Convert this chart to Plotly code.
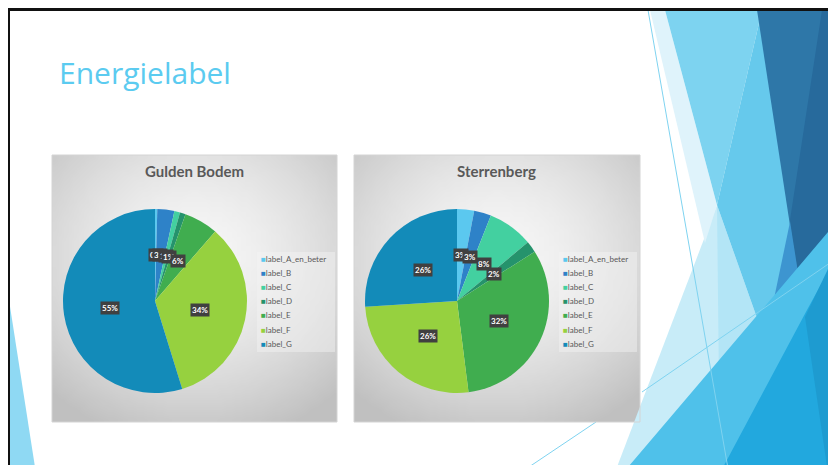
import base64
import struct
import zlib

import numpy as np
import plotly.graph_objects as go

# the page body has an 8px margin, so the figure starts at (8, 8) of the window
OFF = 8
W, H = 836 - OFF, 473 - 2 * OFF

labels = ["label_A_en_beter", "label_B", "label_C", "label_D", "label_E", "label_F", "label_G"]
colors = ["#5bc8ef", "#2e82c8", "#43d0a0", "#25936c", "#40ad4f", "#96d13f", "#138bb9"]
gulden_bodem = [0.4, 3, 1, 1, 6, 34, 55]
sterrenberg = [3, 3, 8, 2, 32, 26, 26]


def px(x):
    return (x - OFF) / W


def py(y):
    return 1 - (y - OFF) / H


def gradient_png(w=58, h=54):
    yy, xx = np.mgrid[0:h, 0:w]
    xx = xx / (w - 1)
    yy = yy / (h - 1)
    d = np.sqrt(((xx - 0.5) / 0.75) ** 2 + ((yy - 0.38) / 0.72) ** 2)
    val = 247 - 55 * np.clip(d, 0, 1) ** 1.6
    arr = val.astype(np.uint8)
    raw = b"".join(b"\x00" + row.tobytes() for row in arr)

    def chunk(tag, data):
        c = struct.pack(">I", len(data)) + tag + data
        return c + struct.pack(">I", zlib.crc32(tag + data) & 0xFFFFFFFF)

    png = b"\x89PNG\r\n\x1a\n"
    png += chunk(b"IHDR", struct.pack(">IIBBBBB", w, h, 8, 0, 0, 0, 0))
    png += chunk(b"IDAT", zlib.compress(raw, 9))
    png += chunk(b"IEND", b"")
    return "data:image/png;base64," + base64.b64encode(png).decode()


def poly(points, color):
    path = "M " + " L ".join(f"{px(x)},{py(y)}" for x, y in points) + " Z"
    return dict(type="path", path=path, xref="paper", yref="paper",
                fillcolor=color, line=dict(width=0), layer="below")


def seg(x0, y0, x1, y1, color, width=1):
    return dict(type="line", xref="paper", yref="paper",
                x0=px(x0), y0=py(y0), x1=px(x1), y1=py(y1),
                line=dict(color=color, width=width), layer="below")


# chart panels: box (left, top, right, bottom), pie centre and radius in window pixels
charts = [
    dict(title="Gulden Bodem", values=gulden_bodem, box=(52, 155, 337, 422), c=(155, 301), r=92),
    dict(title="Sterrenberg", values=sterrenberg, box=(354, 155, 640, 422), c=(457, 301), r=92),
]

fig = go.Figure()
shapes = []
annotations = []
images = []
bg = gradient_png()

# slide decoration (theme shapes)
shapes += [
    poly([(9, 300), (9, 480), (37, 480)], "#8fd9f3"),
    poly([(717, 205), (612, 480), (775, 480)], "#c8ecf8"),
    poly([(717, 205), (757, 318), (765, 480), (720, 480)], "#b3e5f6"),
    poly([(650, 10), (665, 10), (717, 205), (705, 243)], "#dff3fb"),
    poly([(665, 10), (762, 10), (717, 205)], "#7dd3f0"),
    poly([(762, 10), (795, 10), (805, 330), (757, 318), (717, 205)], "#66c9ec"),
    poly([(757, 10), (840, 10), (840, 480), (829, 480)], "#2e77a8"),
    poly([(822, 10), (840, 10), (840, 480), (829, 480), (805, 317), (790, 220)], "#276a9c"),
    poly([(790, 222), (805, 317), (772, 400), (770, 318)], "#3d95d0"),
    poly([(623, 473), (840, 218), (840, 480), (617, 480)], "#4fc1ea"),
    poly([(720, 473), (807, 310), (840, 250), (840, 480), (716, 480)], "#22a8de"),
    poly([(805, 317), (840, 244), (840, 480), (829, 480)], "#1e9bd0"),
    seg(648, 10, 730, 480, "#7fd3f0"),
    seg(520, 473, 596, 422, "#7fd3f0"),
    seg(642, 392, 840, 256, "#7fd3f0"),
    # slide border
    seg(8, 9.5, 840, 9.5, "#111111", 3),
    seg(8.5, 9.5, 8.5, 480, "#111111", 3),
]

for ch in charts:
    x0, y0, x1, y1 = ch["box"]
    cx, cy = ch["c"]
    r = ch["r"]
    vals = ch["values"]
    total = sum(vals)

    images.append(dict(source=bg, xref="paper", yref="paper", x=px(x0), y=py(y0),
                       sizex=(x1 - x0) / W, sizey=(y1 - y0) / H, xanchor="left",
                       yanchor="top", sizing="stretch", layer="below"))
    shapes.append(dict(type="rect", xref="paper", yref="paper", x0=px(x0), y0=py(y1),
                       x1=px(x1), y1=py(y0), line=dict(color="#d4d4d4", width=1), layer="below"))

    fig.add_trace(go.Pie(
        labels=labels, values=vals, sort=False, direction="clockwise", rotation=0,
        marker=dict(colors=colors, line=dict(width=0)), textinfo="none",
        hoverinfo="label+percent", showlegend=False,
        domain=dict(x=[px(cx - r), px(cx + r)], y=[py(cy + r), py(cy - r)]),
    ))

    annotations.append(dict(text=f"<b>{ch['title']}</b>", xref="paper", yref="paper",
                            x=px((x0 + x1) / 2), y=py(171), showarrow=False,
                            font=dict(family="Lato", size=15, color="#595959"),
                            xanchor="center", yanchor="middle"))

    # data labels at half radius on each slice's mid angle
    cum = 0
    for v in vals:
        theta = 2 * np.pi * (cum + v / 2) / total
        cum += v
        lx = cx + 0.5 * r * np.sin(theta)
        ly = cy - 0.5 * r * np.cos(theta)
        annotations.append(dict(text=f"<b>{round(100 * v / total)}%</b>", xref="paper", yref="paper",
                                x=px(lx), y=py(ly), showarrow=False, bgcolor="#404040",
                                borderpad=1, font=dict(family="Lato", size=8, color="white"),
                                xanchor="center", yanchor="middle"))

    # legend panel
    lx0 = x0 + 205
    shapes.append(dict(type="rect", xref="paper", yref="paper", x0=px(lx0), y0=py(352),
                       x1=px(lx0 + 78), y1=py(252), fillcolor="rgba(245,245,245,0.45)",
                       line=dict(width=0), layer="below"))
    for i, (lab, col) in enumerate(zip(labels, colors)):
        annotations.append(dict(text=f"<span style='color:{col}'>■</span>{lab}",
                                xref="paper", yref="paper", x=px(lx0 + 2), y=py(259 + 14.1 * i),
                                showarrow=False, xanchor="left", yanchor="middle",
                                font=dict(family="Lato", size=8, color="#595959")))

annotations.append(dict(text="Energielabel", xref="paper", yref="paper", x=px(57), y=py(72),
                        showarrow=False, xanchor="left", yanchor="middle",
                        font=dict(family="Open Sans", size=30, color="#5bcbf0")))

fig.update_layout(
    width=W, height=H, margin=dict(l=0, r=0, t=0, b=0),
    paper_bgcolor="white", plot_bgcolor="white",
    shapes=shapes, annotations=annotations, images=images,
)

fig.write_html("out.html")
